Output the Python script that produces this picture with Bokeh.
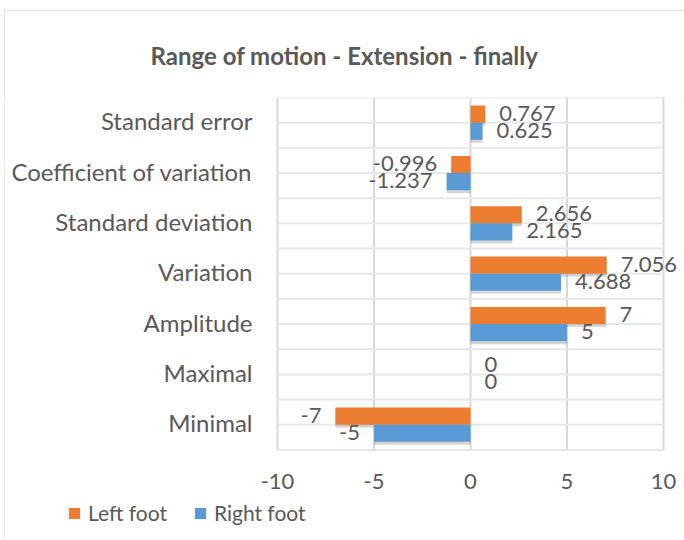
from bokeh.plotting import figure
from bokeh.models import ColumnDataSource, Legend, LegendItem
from bokeh.core.properties import value
from bokeh.embed import file_html
from bokeh.resources import INLINE

categories = ["Minimal", "Maximal", "Amplitude", "Variation", "Standard deviation",
              "Coefficient of variation", "Standard error"]
left_foot = [-7, 0, 7, 7.056, 2.656, -0.996, 0.767]
right_foot = [-5, 0, 5, 4.688, 2.165, -1.237, 0.625]
x_ticks = [-10, -5, 0, 5, 10]
x_tick_labels = ["-10", "-5", "0", "5", "10"]

ORANGE = "#ED7D31"
BLUE = "#5B9BD5"
GREY = "#595959"
GRID = "#d9d9d9"
FONT = value("Lato")

n = len(categories)
idx = list(range(n))
y_left = [i + 0.17 for i in idx]
y_right = [i - 0.17 for i in idx]

# layout in pixels (figure coordinates)
W, H = 680, 530
TOP = 85                  # plot area top
PLOT_L, PLOT_R = 273, 659  # x of -10 and 10
PLOT_B = 439              # plot area bottom
px_x = (PLOT_R - PLOT_L) / (x_ticks[-1] - x_ticks[0])
px_y = (PLOT_B - TOP) / n
x_start = x_ticks[0] - PLOT_L / px_x
x_end = x_ticks[-1] + (W - PLOT_R) / px_x
y_lo = -0.5 - (H - PLOT_B) / px_y
y_hi = n - 0.5

p = figure(width=W, height=H, output_backend="svg", toolbar_location=None,
           x_range=(x_start, x_end), y_range=(y_lo, y_hi),
           min_border_left=0, min_border_right=0, min_border_top=TOP, min_border_bottom=0)
p.outline_line_color = None
p.axis.visible = False
p.grid.visible = False
p.styles = {"margin-left": "4px", "margin-top": "10px",
            "outline": "2px solid #d9d9d9", "outline-offset": "-2px"}

# gridlines
halves = [i / 2 for i in range(-1, 2 * n)]
p.segment(x0=x_ticks, x1=x_ticks, y0=-0.5, y1=y_hi, line_color=GRID, line_width=2)
p.segment(x0=x_ticks[0], x1=x_ticks[-1], y0=halves, y1=halves, line_color="#e8e8e8",
          line_width=2)

# shadows
p.hbar(y=[v - 0.06 for v in y_left], left=0, right=left_foot, height=0.34,
       fill_color="black", fill_alpha=0.16, line_color=None)
p.hbar(y=[v - 0.06 for v in y_right], left=0, right=right_foot, height=0.34,
       fill_color="black", fill_alpha=0.16, line_color=None)

r_left = p.hbar(y=y_left, left=0, right=left_foot, height=0.34,
                fill_color=ORANGE, line_color=None)
r_right = p.hbar(y=y_right, left=0, right=right_foot, height=0.34,
                 fill_color=BLUE, line_color=None)

# value labels
def add_labels(vals, ys):
    pos = [(v, y, f"{v:g}") for v, y in zip(vals, ys) if v >= 0]
    neg = [(v, y, f"{v:g}") for v, y in zip(vals, ys) if v < 0]
    for group, off, align in ((pos, 14, "left"), (neg, -14, "right")):
        if not group:
            continue
        src = ColumnDataSource(dict(x=[g[0] for g in group], y=[g[1] for g in group],
                                    t=[g[2] for g in group]))
        p.text(x="x", y="y", text="t", source=src, x_offset=off, y_offset=-1,
               text_align=align, text_baseline="middle",
               text_font=FONT, text_font_size="22px", text_color=GREY)

add_labels(left_foot, y_left)
add_labels(right_foot, y_right)

# category labels
p.text(x=[x_ticks[0]] * n, y=idx, text=categories, x_offset=-25, y_offset=-2,
       text_align="right", text_baseline="middle",
       text_font=FONT, text_font_size="24px", text_color=GREY)

# x tick labels
p.text(x=x_ticks, y=[-0.5] * len(x_ticks), text=x_tick_labels, y_offset=32,
       text_align="center", text_baseline="middle",
       text_font=FONT, text_font_size="22px", text_color=GREY)

# title
p.title.text = "Range of motion - Extension - finally"
p.title.align = "center"
p.title.text_font = "Lato"
p.title.text_font_size = "24px"
p.title.text_font_style = "bold"
p.title.text_color = GREY
p.title.standoff = 56

legend = Legend(items=[LegendItem(label="Left foot", renderers=[r_left]),
                       LegendItem(label="Right foot", renderers=[r_right])],
                orientation="horizontal", location=(63, 15),
                padding=0, margin=0, spacing=26, glyph_width=14, glyph_height=14,
                label_standoff=7, label_height=20, label_text_font="Lato",
                label_text_font_size="21px", label_text_baseline="middle",
                label_text_color=GREY, border_line_color=None, background_fill_alpha=0)
p.add_layout(legend)

open("out.html", "w").write(file_html(p, INLINE))
